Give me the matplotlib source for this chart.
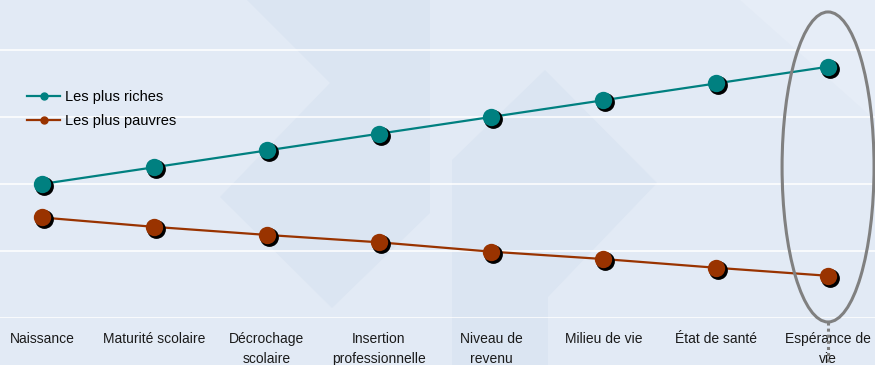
import matplotlib.pyplot as plt
from matplotlib.patches import Ellipse, Polygon
from matplotlib.transforms import offset_copy

plt.rcParams['font.family'] = ['Liberation Sans', 'DejaVu Sans']

categories = ["Naissance", "Maturité scolaire", "Décrochage\nscolaire",
              "Insertion\nprofessionnelle", "Niveau de\nrevenu", "Milieu de vie",
              "État de santé", "Espérance de\nvie"]
riches = [2.0, 2.25, 2.5, 2.75, 3.0, 3.25, 3.5, 3.75]
pauvres = [1.5, 1.36, 1.24, 1.13, 0.99, 0.88, 0.75, 0.63]

teal = "#008080"
brown = "#993300"
bg = "#e2eaf5"

fig = plt.figure(figsize=(8.75, 3.65), dpi=100)
fig.patch.set_facecolor(bg)

# background axes for the decorative shapes (pixel coords, y from top)
bgax = fig.add_axes([0, 0, 1, 1], zorder=0)
bgax.set_xlim(0, 875)
bgax.set_ylim(365, 0)
bgax.axis("off")
shade = "#dbe5f2"
bgax.add_patch(Polygon([(247, 0), (430, 0), (430, 213), (332, 308), (220, 197), (330, 83)],
                       facecolor=shade, edgecolor="none"))
bgax.add_patch(Polygon([(452, 365), (452, 160), (545, 70), (657, 183), (548, 297), (548, 365)],
                       facecolor=shade, edgecolor="none"))
bgax.add_patch(Polygon([(740, 0), (875, 0), (875, 120)], facecolor="#e6edf7", edgecolor="none"))

ax = fig.add_axes([0, (365 - 318) / 365, 1, 318 / 365], zorder=1)
ax.set_facecolor("none")
x = list(range(len(categories)))

ax.set_xlim(-0.374, 7.418)
ax.set_ylim(0, 4.746)
ax.set_yticks([0, 1, 2, 3, 4])
ax.yaxis.grid(True, color="white", linewidth=1.1)
ax.set_axisbelow(True)
for s in ax.spines.values():
    s.set_visible(False)
ax.tick_params(axis="y", length=0, labelleft=False)
ax.set_xticks(x)
ax.set_xticklabels(categories, fontsize=10, color="#1a1a1a", linespacing=1.55)
ax.tick_params(axis="x", length=0, pad=10)

shadow = offset_copy(ax.transData, fig=fig, x=2, y=-2, units="dots")
for vals, col, lab in [(riches, teal, "Les plus riches"), (pauvres, brown, "Les plus pauvres")]:
    ax.plot(x, vals, color=col, linewidth=1.6, zorder=3)
    ax.plot(x, vals, linestyle="none", marker="o", markersize=12.5, color="black",
            transform=shadow, zorder=4)
    ax.plot(x, vals, linestyle="none", marker="o", markersize=12.5, color=col,
            markeredgewidth=0, zorder=5)
    ax.plot([], [], color=col, linewidth=1.6, marker="o", markersize=5, label=lab)

ax.legend(loc="upper left", bbox_to_anchor=(0.024, 0.735), frameon=False,
          fontsize=10.5, handlelength=2.3, handletextpad=0.3, labelspacing=0.68,
          borderaxespad=0)

ax.add_patch(Ellipse((7, 2.254), 0.819, 4.627, fill=False, edgecolor="#808080",
                     linewidth=2.2, clip_on=False, zorder=6))
ax.plot([7, 7], [-0.06, -0.72], color="#808080", linewidth=2.2,
        linestyle=(0, (1, 1)), clip_on=False, zorder=6)

fig.savefig("out.png", dpi=100, facecolor=bg)
